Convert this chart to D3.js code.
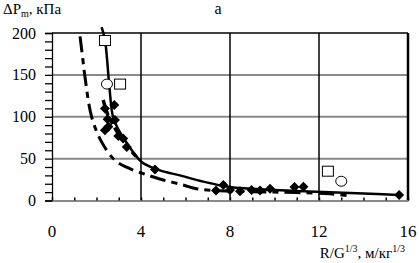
<!DOCTYPE html>
<html>
<head>
<meta charset="utf-8">
<script src="https://cdn.jsdelivr.net/npm/d3@7"></script>
<style>
  body { margin: 0; background: #fff; }
</style>
</head>
<body>
<div id="chart"></div>
<script>
const xTicks = [0, 4, 8, 12, 16]
const yTicks = [0, 50, 100, 150, 200]

// measured points
const squares = [[2.38, 191], [3.06, 139], [12.4, 35]]
const circles = [[2.47, 139], [13.0, 23]]
const diamonds = [
  [2.38, 110], [2.8, 114], [2.5, 97], [2.83, 96], [2.38, 84], [2.53, 88],
  [2.98, 77], [3.2, 74], [3.36, 64], [4.63, 37],
  [7.37, 12], [7.7, 18.5], [8.0, 12.5], [8.45, 11], [8.97, 12.5], [9.35, 12],
  [9.8, 14], [10.9, 16], [11.3, 16.5], [15.6, 6.5]
]

// fitted curves
const solidCurve = [
  [2.23, 207], [2.38, 192], [2.57, 139], [2.74, 100], [3.0, 84], [3.28, 72], [4.03, 46],
  [4.85, 36], [5.75, 30], [6.8, 22.5], [8, 16], [10, 12.5], [11.9, 10.5],
  [14, 8.5], [15.6, 6.5]
]
const dashDotCurve = [
  [1.26, 196], [1.38, 170], [1.48, 148], [1.78, 100], [2.23, 70], [2.83, 48],
  [3.5, 38], [4.33, 30], [5.0, 24.5], [5.9, 18.5], [6.5, 14], [7.55, 11.7],
  [9, 10.5], [11, 9.5], [12.5, 8], [13.4, 5.5]
]
const dashCurve = [
  [2.3, 120], [2.5, 103], [2.75, 90], [3.05, 77], [3.4, 64], [3.8, 52]
]

const width = 419
const height = 263
const margin = { top: 33, right: 11, bottom: 62.5, left: 52 }
const serif = 'Times New Roman, Liberation Serif, DejaVu Serif, Times, serif'

const svg = d3.select('#chart')
  .append('svg')
  .attr('width', width)
  .attr('height', height)
  .style('display', 'block')
  .style('font-family', serif)

const x = d3.scaleLinear()
  .domain([0, 16])
  .range([margin.left, width - margin.right])

const y = d3.scaleLinear()
  .domain([0, 200])
  .range([height - margin.bottom, margin.top])

// horizontal gridlines (grey)
svg.append('g')
  .selectAll('line')
  .data([50, 100, 150])
  .join('line')
  .attr('x1', x(0))
  .attr('x2', x(16))
  .attr('y1', d => y(d))
  .attr('y2', d => y(d))
  .attr('stroke', '#8a8a8a')
  .attr('stroke-width', 2)

// vertical gridlines (black)
svg.append('g')
  .selectAll('line')
  .data([4, 8, 12])
  .join('line')
  .attr('x1', d => x(d))
  .attr('x2', d => x(d))
  .attr('y1', y(0))
  .attr('y2', y(200))
  .attr('stroke', '#000')
  .attr('stroke-width', 1.5)

// frame
svg.append('line')
  .attr('x1', x(0)).attr('x2', x(16))
  .attr('y1', y(200)).attr('y2', y(200))
  .attr('stroke', '#000').attr('stroke-width', 1.5)
svg.append('line')
  .attr('x1', x(16)).attr('x2', x(16))
  .attr('y1', y(0)).attr('y2', y(200))
  .attr('stroke', '#000').attr('stroke-width', 2.5)

// y axis with minor ticks outside
const yAxis = d3.axisLeft(y)
  .tickValues(d3.range(0, 201, 10))
  .tickSize(7)
  .tickFormat('')
svg.append('g')
  .attr('transform', `translate(${x(0)},0)`)
  .call(yAxis)
  .call(g => g.selectAll('path, line').attr('stroke', '#000').attr('stroke-width', 1.3))

// x axis: grey line, small inner ticks
svg.append('g')
  .attr('transform', `translate(0,${y(0)})`)
  .call(d3.axisTop(x).tickValues(d3.range(0, 17, 1)).tickSize(3).tickSizeOuter(0).tickFormat(''))
  .call(g => g.select('.domain').attr('stroke', '#8a8a8a').attr('stroke-width', 2))
  .call(g => g.selectAll('.tick line').attr('stroke', '#000').attr('stroke-width', 1.5))

// tick labels
svg.append('g')
  .selectAll('text')
  .data(yTicks)
  .join('text')
  .attr('x', 36)
  .attr('y', d => y(d))
  .attr('dy', '0.35em')
  .attr('text-anchor', 'end')
  .attr('font-size', 16)
  .text(d => d)

svg.append('g')
  .selectAll('text')
  .data(xTicks)
  .join('text')
  .attr('x', d => x(d))
  .attr('y', 237)
  .attr('text-anchor', 'middle')
  .attr('font-size', 17)
  .text(d => d)

// curves
const line = d3.line()
  .x(d => x(d[0]))
  .y(d => y(d[1]))
  .curve(d3.curveCatmullRom.alpha(0.5))

svg.append('path')
  .datum(dashDotCurve)
  .attr('d', line)
  .attr('fill', 'none')
  .attr('stroke', '#000')
  .attr('stroke-width', 3)
  .attr('stroke-dasharray', '16,6,6,6')

svg.append('path')
  .datum(dashCurve)
  .attr('d', line)
  .attr('fill', 'none')
  .attr('stroke', '#000')
  .attr('stroke-width', 3.5)
  .attr('stroke-dasharray', '6,4')

svg.append('path')
  .datum(solidCurve)
  .attr('d', line)
  .attr('fill', 'none')
  .attr('stroke', '#000')
  .attr('stroke-width', 2.5)

// markers
svg.append('g')
  .selectAll('path')
  .data(diamonds)
  .join('path')
  .attr('transform', d => `translate(${x(d[0])},${y(d[1])})`)
  .attr('d', 'M0,-5L5,0L0,5L-5,0Z')
  .attr('fill', '#000')

svg.append('g')
  .selectAll('rect')
  .data(squares)
  .join('rect')
  .attr('x', d => x(d[0]) - 5.5)
  .attr('y', d => y(d[1]) - 5)
  .attr('width', 11)
  .attr('height', 10)
  .attr('fill', '#fff')
  .attr('stroke', '#000')
  .attr('stroke-width', 1)

svg.append('g')
  .selectAll('ellipse')
  .data(circles)
  .join('ellipse')
  .attr('cx', d => x(d[0]))
  .attr('cy', d => y(d[1]))
  .attr('rx', 5.5)
  .attr('ry', 5)
  .attr('fill', '#fff')
  .attr('stroke', '#000')
  .attr('stroke-width', 1)

// titles
const yTitle = svg.append('text')
  .attr('x', 3)
  .attr('y', 14)
  .attr('font-size', 15)
yTitle.append('tspan').text('ΔP')
yTitle.append('tspan').attr('font-size', 10).attr('dy', 3).text('m')
yTitle.append('tspan').attr('dy', -3).text(', кПа')

svg.append('text')
  .attr('x', 218)
  .attr('y', 14)
  .attr('text-anchor', 'middle')
  .attr('font-size', 16)
  .text('а')

const xTitle = svg.append('text')
  .attr('x', 405)
  .attr('y', 258)
  .attr('text-anchor', 'end')
  .attr('font-size', 15)
xTitle.append('tspan').text('R/G')
xTitle.append('tspan').attr('font-size', 10).attr('dy', -6).text('1/3')
xTitle.append('tspan').attr('dy', 6).text(', м/кг')
xTitle.append('tspan').attr('font-size', 10).attr('dy', -6).text('1/3')
</script>
</body>
</html>
